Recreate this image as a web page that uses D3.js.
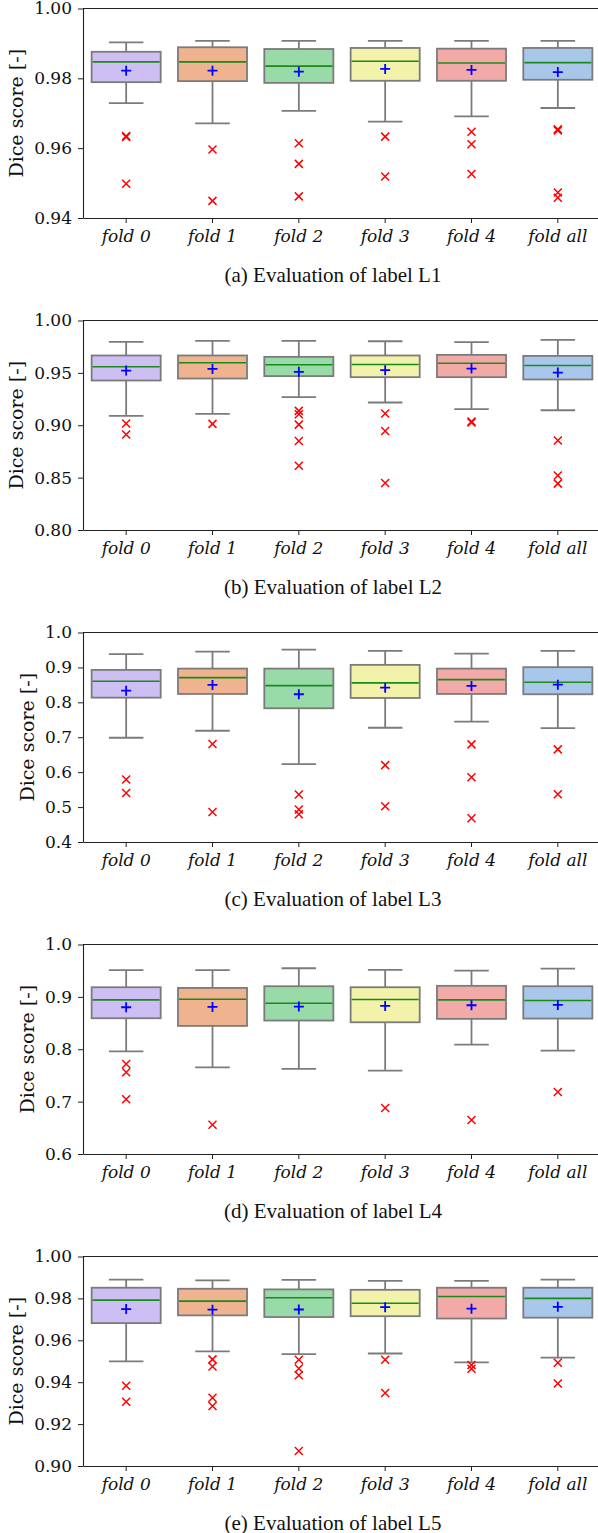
<!DOCTYPE html>
<html>
<head>
<meta charset="utf-8">
<script src="https://cdn.jsdelivr.net/npm/d3@7"></script>
<style>
body { margin: 0; background: #fff; }
svg { display: block; }
</style>
</head>
<body>
<div id="fig"></div>
<script>
const folds = ["fold 0", "fold 1", "fold 2", "fold 3", "fold 4", "fold all"]
const fills = ["#cdbff3", "#efb48f", "#98dba9", "#f2f2aa", "#f2aaa8", "#a9c7ea"]

// per fold: [whisker low, q1, median, q3, whisker high, mean]
const L1 = [
    [0.9729, 0.9789, 0.9847, 0.9876, 0.9903, 0.9822],
    [0.9671, 0.9792, 0.9847, 0.9889, 0.9907, 0.9822],
    [0.9707, 0.9787, 0.9835, 0.9884, 0.9907, 0.9819],
    [0.9676, 0.9793, 0.9849, 0.9887, 0.9907, 0.9827],
    [0.9691, 0.9793, 0.9844, 0.9885, 0.9907, 0.9824],
    [0.9715, 0.9796, 0.9845, 0.9887, 0.9907, 0.9818]
]
const L1_out = [
    [0.9635, 0.9632, 0.9498],
    [0.9596, 0.9449],
    [0.9614, 0.9555, 0.9462],
    [0.9633, 0.9519],
    [0.9647, 0.9611, 0.9526],
    [0.9654, 0.9651, 0.9473, 0.9458]
]

const L2 = [
    [0.9089, 0.9427, 0.9558, 0.9666, 0.9796, 0.9522],
    [0.9108, 0.9446, 0.9596, 0.9666, 0.9806, 0.9538],
    [0.9268, 0.9469, 0.9577, 0.9653, 0.9806, 0.9510],
    [0.9217, 0.9459, 0.9580, 0.9666, 0.9802, 0.9526],
    [0.9153, 0.9459, 0.9592, 0.9672, 0.9793, 0.9541],
    [0.9143, 0.9437, 0.9570, 0.9662, 0.9815, 0.9503]
]
const L2_out = [
    [0.9016, 0.8911],
    [0.9013],
    [0.9137, 0.9105, 0.9006, 0.8850, 0.8614],
    [0.9112, 0.8946, 0.8449],
    [0.9036, 0.9026],
    [0.8854, 0.8520, 0.8443]
]

const L3 = [
    [0.6985, 0.8134, 0.8605, 0.8929, 0.9380, 0.8335],
    [0.7186, 0.8240, 0.8708, 0.8966, 0.9455, 0.8498],
    [0.6230, 0.7830, 0.8478, 0.8966, 0.9512, 0.8231],
    [0.7272, 0.8125, 0.8556, 0.9073, 0.9475, 0.8421],
    [0.7445, 0.8240, 0.8650, 0.8966, 0.9397, 0.8470],
    [0.7264, 0.8231, 0.8576, 0.9007, 0.9475, 0.8507]
]
const L3_out = [
    [0.5791, 0.5406],
    [0.6804, 0.4861],
    [0.5360, 0.4930, 0.4795],
    [0.6202, 0.5024],
    [0.6796, 0.5857, 0.4680],
    [0.6652, 0.5369]
]

const L4 = [
    [0.7961, 0.8592, 0.8943, 0.9184, 0.9510, 0.8802],
    [0.7655, 0.8446, 0.8955, 0.9171, 0.9510, 0.8809],
    [0.7625, 0.8548, 0.8878, 0.9203, 0.9547, 0.8815],
    [0.7592, 0.8515, 0.8949, 0.9184, 0.9516, 0.8828],
    [0.8089, 0.8580, 0.8943, 0.9211, 0.9503, 0.8840],
    [0.7974, 0.8586, 0.8930, 0.9203, 0.9541, 0.8847]
]
const L4_out = [
    [0.7719, 0.7560, 0.7044],
    [0.6560],
    [],
    [0.6880],
    [0.6650],
    [0.7185]
]

const L5 = [
    [0.9499, 0.9682, 0.9792, 0.9851, 0.9890, 0.9749],
    [0.9547, 0.9719, 0.9787, 0.9846, 0.9886, 0.9746],
    [0.9534, 0.9711, 0.9803, 0.9843, 0.9888, 0.9747],
    [0.9537, 0.9715, 0.9777, 0.9841, 0.9884, 0.9758],
    [0.9495, 0.9704, 0.9809, 0.9851, 0.9884, 0.9751],
    [0.9517, 0.9708, 0.9800, 0.9851, 0.9890, 0.9760]
]
const L5_out = [
    [0.9383, 0.9307],
    [0.9509, 0.9475, 0.9326, 0.9286],
    [0.9507, 0.9465, 0.9433, 0.9072],
    [0.9507, 0.9348],
    [0.9482, 0.9464],
    [0.9493, 0.9394]
]

const L1_ticks = [0.94, 0.96, 0.98, 1.00]
const L2_ticks = [0.80, 0.85, 0.90, 0.95, 1.00]
const L3_ticks = [0.4, 0.5, 0.6, 0.7, 0.8, 0.9, 1.0]
const L4_ticks = [0.6, 0.7, 0.8, 0.9, 1.0]
const L5_ticks = [0.90, 0.92, 0.94, 0.96, 0.98, 1.00]

const panels = [
    {caption: "(a) Evaluation of label L1", stats: L1, out: L1_out, ticks: L1_ticks, fmt: ".2f"},
    {caption: "(b) Evaluation of label L2", stats: L2, out: L2_out, ticks: L2_ticks, fmt: ".2f"},
    {caption: "(c) Evaluation of label L3", stats: L3, out: L3_out, ticks: L3_ticks, fmt: ".1f"},
    {caption: "(d) Evaluation of label L4", stats: L4, out: L4_out, ticks: L4_ticks, fmt: ".1f"},
    {caption: "(e) Evaluation of label L5", stats: L5, out: L5_out, ticks: L5_ticks, fmt: ".2f"}
]

const W = 598, H = 1533
const LEFT = 83, RIGHT = 601
const PH = 209.5, STEP = 312, TOP0 = 8.5
const EDGE = "#7b7b7b"
const SERIF = "'DejaVu Serif', serif"

const svg = d3.select("#fig").append("svg")
    .attr("width", W)
    .attr("height", H)

const x = d3.scaleBand().domain(folds).range([LEFT, RIGHT])
const bw = x.bandwidth() * 0.8
const capW = bw / 2

panels.forEach((p, i) => {
    const top = TOP0 + i * STEP
    const y = d3.scaleLinear()
        .domain([p.ticks[0], p.ticks[p.ticks.length - 1]])
        .range([top + PH, top])

    const g = svg.append("g")

    const boxes = g.selectAll(".box")
        .data(p.stats.map((s, j) => ({fold: folds[j], s: s, fill: fills[j], out: p.out[j]})))
        .join("g")
        .attr("transform", d => `translate(${x(d.fold) + x.bandwidth() / 2},0)`)

    // whiskers
    boxes.append("line")
        .attr("y1", d => y(d.s[0])).attr("y2", d => y(d.s[1]))
        .attr("stroke", EDGE).attr("stroke-width", 1.8)
    boxes.append("line")
        .attr("y1", d => y(d.s[3])).attr("y2", d => y(d.s[4]))
        .attr("stroke", EDGE).attr("stroke-width", 1.8)
    boxes.append("line")
        .attr("x1", -capW / 2).attr("x2", capW / 2)
        .attr("y1", d => y(d.s[0])).attr("y2", d => y(d.s[0]))
        .attr("stroke", EDGE).attr("stroke-width", 1.8)
    boxes.append("line")
        .attr("x1", -capW / 2).attr("x2", capW / 2)
        .attr("y1", d => y(d.s[4])).attr("y2", d => y(d.s[4]))
        .attr("stroke", EDGE).attr("stroke-width", 1.8)

    // box
    boxes.append("rect")
        .attr("x", -bw / 2)
        .attr("width", bw)
        .attr("y", d => y(d.s[3]))
        .attr("height", d => y(d.s[1]) - y(d.s[3]))
        .attr("fill", d => d.fill)
        .attr("stroke", EDGE)
        .attr("stroke-width", 1.8)

    // median
    boxes.append("line")
        .attr("x1", -bw / 2 + 1).attr("x2", bw / 2 - 1)
        .attr("y1", d => y(d.s[2])).attr("y2", d => y(d.s[2]))
        .attr("stroke", "#1a8a1a").attr("stroke-width", 1.6)

    // mean marker
    boxes.append("path")
        .attr("d", d => `M-5,${y(d.s[5])}h10M0,${y(d.s[5]) - 5}v10`)
        .attr("stroke", "#0000ff").attr("stroke-width", 1.8)

    // outliers
    boxes.selectAll(".out")
        .data(d => d.out)
        .join("path")
        .attr("d", v => `M-4,${y(v) - 4}l8,8M-4,${y(v) + 4}l8,-8`)
        .attr("stroke", "#ff0000").attr("stroke-width", 1.5)

    // axes
    const yAxis = d3.axisLeft(y)
        .tickValues(p.ticks)
        .tickFormat(d3.format(p.fmt))
        .tickSize(5)
        .tickSizeOuter(0)
        .tickPadding(6)
    const ya = g.append("g")
        .attr("transform", `translate(${LEFT},0)`)
        .call(yAxis)
    ya.selectAll("text")
        .attr("font-family", SERIF)
        .attr("font-size", 17)
        .attr("fill", "#111")

    const xAxis = d3.axisBottom(x)
        .tickSize(5)
        .tickSizeOuter(0)
        .tickPadding(7)
    const xa = g.append("g")
        .attr("transform", `translate(0,${top + PH})`)
        .call(xAxis)
    xa.selectAll("text")
        .attr("font-family", SERIF)
        .attr("font-style", "italic")
        .attr("font-size", 17)
        .attr("fill", "#111")

    g.selectAll(".domain").attr("stroke", "#222").attr("stroke-width", 1.1)
    g.selectAll(".tick line").attr("stroke", "#222").attr("stroke-width", 1)

    g.append("line")
        .attr("x1", LEFT).attr("x2", RIGHT)
        .attr("y1", top).attr("y2", top)
        .attr("stroke", "#222").attr("stroke-width", 1.1)
    g.append("line")
        .attr("x1", RIGHT).attr("x2", RIGHT)
        .attr("y1", top).attr("y2", top + PH)
        .attr("stroke", "#222").attr("stroke-width", 1.1)

    // y label placed left of the widest tick label
    let minX = LEFT
    ya.selectAll("text").each(function () {
        const b = this.getBBox()
        minX = Math.min(minX, LEFT + b.x)
    })
    g.append("text")
        .attr("transform", `translate(${minX - 11},${top + PH / 2}) rotate(-90)`)
        .attr("text-anchor", "middle")
        .attr("font-family", SERIF)
        .attr("font-size", 19)
        .attr("fill", "#111")
        .text("Dice score [-]")

    g.append("text")
        .attr("x", 333)
        .attr("y", top + 273.5)
        .attr("text-anchor", "middle")
        .attr("font-family", "'Liberation Serif', 'Times New Roman', serif")
        .attr("font-size", 21)
        .attr("fill", "#111")
        .text(p.caption)
})
</script>
</body>
</html>
